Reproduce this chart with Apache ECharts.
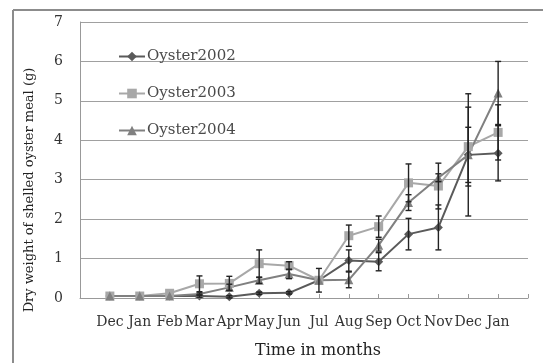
<!DOCTYPE html>
<html>
<head>
<meta charset="utf-8">
<script src="https://cdn.jsdelivr.net/npm/echarts@6/dist/echarts.min.js"></script>
<style>
	html,body{margin:0;padding:0;background:#fff;}
	#oysterChart{width:543px;height:363px;}
</style>
</head>
<body>
<div id="oysterChart"></div>
<script>
	// months along the x axis
	const months = ['Dec','Jan','Feb','Mar','Apr','May','Jun','Jul','Aug','Sep','Oct','Nov','Dec','Jan']
	const yTicks = [0,1,2,3,4,5,6,7]

	// dry weight (g) and error (+/-)
	const oyster2002 = [0.05,0.05,0.05,0.05,0.03,0.12,0.13,0.45,0.95,0.92,1.62,1.79,3.63,3.67]
	const err2002    = [0,0,0,0.03,0.03,0.03,0.03,0,0.27,0.23,0.40,0.57,0.70,0.70]
	const oyster2003 = [0.05,0.05,0.12,0.36,0.37,0.87,0.82,0.45,1.58,1.81,2.92,2.84,3.84,4.20]
	const err2003    = [0,0,0,0.20,0.18,0.35,0.10,0.30,0.27,0.27,0.48,0.58,1.00,0.70]
	const oyster2004 = [0.05,0.05,0.05,0.10,0.27,0.45,0.61,0.45,0.46,1.34,2.42,3.05,3.63,5.20]
	const err2004    = [0,0,0,0.03,0.08,0.08,0.12,0,0.20,0.15,0.20,0.10,1.55,0.80]

	const seriesNames = ['Oyster2002','Oyster2003','Oyster2004']
	const seriesColors = ['#5a5a5a','#a8a8a8','#808080']
	const seriesSymbols = ['diamond','rect','triangle']

	const fontName = 'DejaVu Serif'

	// empty slot at both ends, as in the original
	const xData = [''].concat(months, [''])

	const toPoints = (vals)=> vals.map((v,i)=>[i+1, v])

	const errItems = []
	;[[oyster2002,err2002],[oyster2003,err2003],[oyster2004,err2004]].forEach(pair=>{
		pair[0].forEach((v,i)=>{
			if(pair[1][i] > 0){
				errItems.push([i+1, v - pair[1][i], v + pair[1][i]])
			}
		})
	})

	const renderErr = (params, api)=>{
		let lo = api.coord([api.value(0), api.value(1)])
		let hi = api.coord([api.value(0), api.value(2)])
		let w = 3
		let st = {stroke:'#222', lineWidth:1.4}
		return {
			type:'group',
			children:[
				{type:'line', shape:{x1:lo[0],y1:lo[1],x2:hi[0],y2:hi[1]}, style:st},
				{type:'line', shape:{x1:lo[0]-w,y1:lo[1],x2:lo[0]+w,y2:lo[1]}, style:st},
				{type:'line', shape:{x1:hi[0]-w,y1:hi[1],x2:hi[0]+w,y2:hi[1]}, style:st}
			]
		}
	}

	const lineSeries = [oyster2002,oyster2003,oyster2004].map((vals,k)=>({
		name: seriesNames[k],
		type: 'line',
		data: toPoints(vals),
		symbol: seriesSymbols[k],
		symbolSize: 9,
		showAllSymbol: true,
		lineStyle: {color: seriesColors[k], width: 2},
		itemStyle: {color: seriesColors[k]},
		z: 3
	}))

	const myChart = echarts.init(document.getElementById('oysterChart'))
	const chartOption = {
		backgroundColor: '#fff',
		animation: false,
		textStyle: {fontFamily: fontName},
		grid: {left: 80, top: 22, right: 15, bottom: 65},
		legend: {
			orient: 'vertical',
			left: 113,
			top: 44,
			itemWidth: 26,
			itemHeight: 12,
			itemGap: 22,
			data: seriesNames,
			textStyle: {fontFamily: fontName, fontSize: 15, color: '#4a4a4a', padding: [0,0,0,-3]}
		},
		xAxis: {
			type: 'category',
			data: xData,
			boundaryGap: false,
			axisLine: {lineStyle: {color: '#999', width: 1}},
			axisTick: {show: true, inside: true, length: 4, interval: 0, lineStyle: {color: '#999'}},
			axisLabel: {interval: 0, margin: 17, fontFamily: fontName, fontSize: 14, color: '#333'},
			splitLine: {show: false}
		},
		yAxis: {
			type: 'value',
			min: yTicks[0],
			max: yTicks[yTicks.length-1],
			interval: 1,
			axisLine: {show: true, lineStyle: {color: '#999', width: 1}},
			axisTick: {show: false},
			axisLabel: {margin: 17, fontFamily: fontName, fontSize: 14, color: '#333'},
			splitLine: {show: true, lineStyle: {color: '#a0a0a0', width: 1}}
		},
		graphic: [
			// outer frame
			{type:'line', shape:{x1:13,y1:10,x2:543,y2:10}, style:{stroke:'#8c8c8c', lineWidth:2}},
			{type:'line', shape:{x1:13,y1:10,x2:13,y2:363}, style:{stroke:'#8c8c8c', lineWidth:2}},
			{
				type:'text', x:30, y:190, rotation: Math.PI/2,
				style:{text:'Dry weight of shelled oyster meal (g)', font:'13px "DejaVu Serif"', fill:'#222', textAlign:'center', textVerticalAlign:'middle'}
			},
			{
				type:'text', x:318, y:351,
				style:{text:'Time in months', font:'16px "DejaVu Serif"', fill:'#222', textAlign:'center', textVerticalAlign:'middle'}
			}
		],
		series: lineSeries.concat([{
			name: 'err',
			type: 'custom',
			renderItem: renderErr,
			data: errItems,
			encode: {x: 0, y: [1,2]},
			z: 5,
			silent: true
		}])
	}
	myChart.setOption(chartOption)
</script>
</body>
</html>
